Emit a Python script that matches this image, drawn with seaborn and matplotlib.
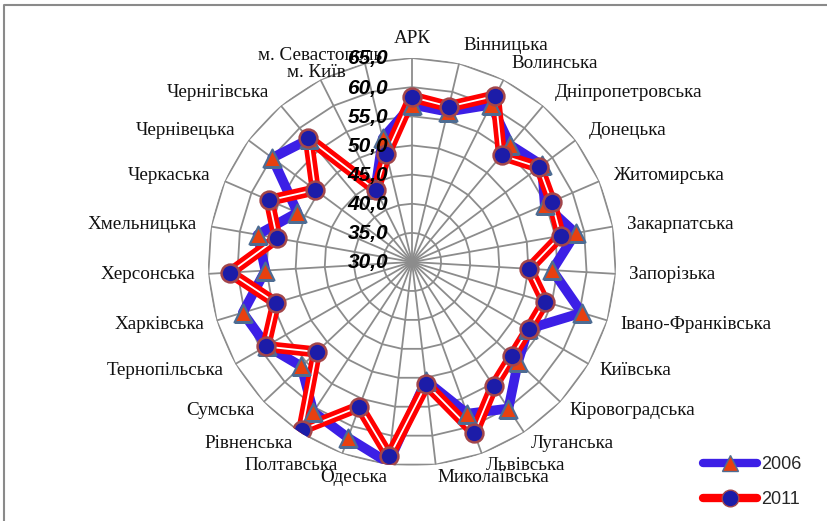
import numpy as np
import pandas as pd
import matplotlib.pyplot as plt
import seaborn as sns
from matplotlib.lines import Line2D

# regions, clockwise from the top
regions = ['АРК', 'Вінницька', 'Волинська', 'Дніпропетровська', 'Донецька',
           'Житомирська', 'Закарпатська', 'Запорізька', 'Івано-Франківська',
           'Київська', 'Кіровоградська', 'Луганська', 'Львівська',
           'Миколаївська', 'Одеська', 'Полтавська', 'Рівненська', 'Сумська',
           'Тернопільська', 'Харківська', 'Херсонська', 'Хмельницька',
           'Черкаська', 'Чернівецька', 'Чернігівська', 'м. Київ',
           'м. Севастополь']

values_2006 = [57.0, 56.5, 60.2, 56.2, 57.8, 54.8, 58.5, 54.1, 60.4, 53.0,
               55.0, 60.1, 57.7, 50.5, 64.7, 62.1, 60.8, 56.1, 58.8, 60.3,
               55.2, 56.9, 51.4, 59.9, 57.5, 44.0, 51.8]
values_2011 = [58.3, 57.4, 61.9, 53.9, 57.2, 56.1, 55.9, 50.1, 53.8, 53.1,
               53.6, 55.5, 61.2, 51.1, 63.6, 56.4, 64.4, 52.5, 59.0, 54.4,
               61.3, 53.5, 56.7, 50.7, 57.7, 43.8, 49.0]

r_ticks = [30, 35, 40, 45, 50, 55, 60, 65]
series_labels = ['2006', '2011']

sns.set_theme(style='white')

n = len(regions)
theta = np.linspace(0, 2 * np.pi, n, endpoint=False)
theta_closed = np.append(theta, theta[0] + 2 * np.pi)

df = pd.DataFrame({'theta': theta, 'v2006': values_2006, 'v2011': values_2011})
loop = pd.concat([df, df.iloc[[0]].assign(theta=theta_closed[-1])], ignore_index=True)

fig = plt.figure(figsize=(8.28, 5.21), dpi=100)
ax = fig.add_axes([0.2512, 0.1056, 0.4928, 0.7831], projection='polar')
ax.set_theta_zero_location('N')
ax.set_theta_direction(-1)
ax.set_ylim(r_ticks[0], r_ticks[-1])
ax.grid(False)
ax.spines['polar'].set_visible(False)
ax.set_xticks([])
ax.set_yticks([])

grid_col = '#8c8c8c'
# polygon rings and spokes (excel style)
for v in r_ticks[1:]:
    ax.plot(theta_closed, [v] * len(theta_closed), color=grid_col, lw=1.3, zorder=1)
for t in theta:
    ax.plot([t, t], [r_ticks[0], r_ticks[-1]], color=grid_col, lw=1.3, zorder=1)

# 2006 line
sns.lineplot(data=loop, x='theta', y='v2006', sort=False, estimator=None, ax=ax,
             color='#3c1fe6', lw=7, zorder=3, solid_capstyle='round')
# 2011 line, red with a thin white stripe
sns.lineplot(data=loop, x='theta', y='v2011', sort=False, estimator=None, ax=ax,
             color='#ff0000', lw=8, zorder=4)
sns.lineplot(data=loop, x='theta', y='v2011', sort=False, estimator=None, ax=ax,
             color='white', lw=1.3, zorder=4.5)

sns.scatterplot(data=df, x='theta', y='v2006', ax=ax, marker='^', s=165,
                color='#e8400f', edgecolor='#4d6c93', linewidth=1.6, zorder=5)
sns.scatterplot(data=df, x='theta', y='v2011', ax=ax, marker='o', s=165,
                color='#1c1ca8', edgecolor='#a3464a', linewidth=1.8, zorder=6)
ax.set_xlabel('')
ax.set_ylabel('')
ax.set_ylim(r_ticks[0], r_ticks[-1])

# radial tick labels
for v in r_ticks:
    ax.annotate(f'{v:.1f}'.replace('.', ','), xy=(0, v), xytext=(-24, -1),
                textcoords='offset pixels', ha='right', va='center',
                fontsize=15, fontweight='bold', fontstyle='italic',
                family=['Liberation Sans', 'DejaVu Sans'], color='black', zorder=7)

# category labels
extra = {'м. Київ': (25, 7), 'м. Севастополь': (17, 8)}
for t, name in zip(theta, regions):
    s, c = np.sin(t), np.cos(t)
    off = 13 + 6 * max(c, 0)
    dx, dy = off * s, off * c
    if s > 0.05:
        ha = 'left'
    elif s < -0.05:
        ha = 'right'
    else:
        ha = 'center'
    if name in extra:
        dx, dy = extra[name]
    ax.annotate(name, xy=(t, r_ticks[-1]), xytext=(dx, dy), textcoords='offset pixels',
                ha=ha, va='center', fontsize=13.8, family='Liberation Serif',
                color='#111111', annotation_clip=False)

# legend
handles = [
    Line2D([], [], color='#3c1fe6', lw=6, marker='^', markersize=12,
           markerfacecolor='#e8400f', markeredgecolor='#4d6c93', solid_capstyle='round'),
    Line2D([], [], color='#ff0000', lw=6, marker='o', markersize=12,
           markerfacecolor='#1c1ca8', markeredgecolor='#a3464a'),
]
fig.legend(handles, series_labels, loc='center left', bbox_to_anchor=(0.838, 0.075),
           frameon=False, handlelength=3.0, handletextpad=0.2, labelspacing=1.0,
           borderpad=0, prop={'family': 'Liberation Sans', 'size': 13})

# chart border (left and top)
fig.add_artist(Line2D([4 / 828, 4 / 828, 1], [0, 1 - 5 / 521, 1 - 5 / 521],
                      transform=fig.transFigure, color='#8a8a8a', lw=1.5))

fig.savefig('out.png', dpi=100)
